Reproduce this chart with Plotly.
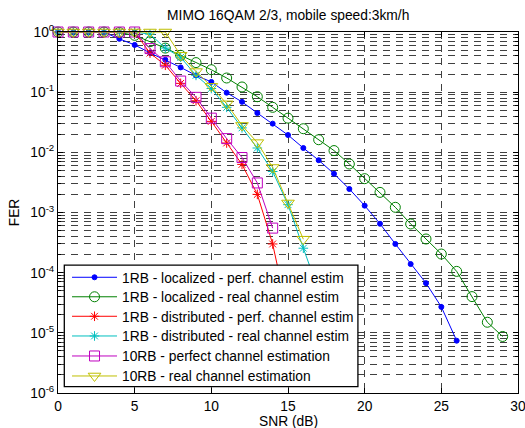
import plotly.graph_objects as go

# SNR grid (dB) and FER values per configuration
snr_loc_perf = list(range(0, 27))
fer_loc_perf = [1, 1, 1, 0.99, 0.77, 0.61, 0.45, 0.345, 0.258, 0.19, 0.148, 0.098,
                0.069, 0.045, 0.030, 0.0194, 0.0118, 0.0074, 0.0044, 0.00246,
                0.0013, 6.5e-4, 3.0e-4, 1.39e-4, 6.7e-5, 2.7e-5, 7.4e-6]

snr_loc_real = list(range(0, 30))
fer_loc_real = [1, 1, 1, 1, 0.98, 0.88, 0.69, 0.54, 0.41, 0.31, 0.236, 0.172,
                0.122, 0.084, 0.056, 0.037, 0.0247, 0.0162, 0.0107, 0.0064,
                0.00365, 0.00216, 0.00122, 6.45e-4, 3.63e-4, 2.04e-4, 1.05e-4,
                4.0e-5, 1.5e-5, 8.7e-6]

snr_dist_perf = list(range(0, 16))
fer_dist_perf = [1, 1, 1, 1, 1, 1, 0.447, 0.28, 0.14, 0.072, 0.0327, 0.0143,
                 0.0063, 0.0020, 3.0e-4, 2.0e-5]

snr_dist_real = list(range(0, 18))
fer_dist_real = [1, 1, 1, 1, 1, 1, 0.92, 0.54, 0.38, 0.19, 0.115, 0.056,
                 0.0255, 0.0118, 0.0048, 0.00135, 2.55e-4, 5.0e-5]

snr_10rb_perf = list(range(0, 15))
fer_10rb_perf = [1, 1, 1, 1, 1, 1, 0.53, 0.32, 0.153, 0.082, 0.037, 0.0169,
                 0.0082, 0.0031, 5.5e-4]

snr_10rb_real = list(range(0, 17))
fer_10rb_real = [1, 1, 1, 1, 1, 1, 1, 1, 0.41, 0.22, 0.125, 0.064, 0.028,
                 0.0145, 0.0056, 0.00144, 3.6e-4]

series_names = [
    "1RB - localized - perf. channel estim",
    "1RB - localized - real channel estim",
    "1RB - distributed - perf. channel estim",
    "1RB - distributed - real channel estim",
    "10RB - perfect channel estimation",
    "10RB - real channel estimation",
]

x_ticks = [0, 5, 10, 15, 20, 25, 30]
y_exponents = [-6, -5, -4, -3, -2, -1, 0]
y_tick_text = ["10<sup>%d</sup>" % e for e in y_exponents]

FONT = "Liberation Sans, Arial, Helvetica, sans-serif"
GRID = "#404040"
GRID_DASH = "7px,6px"

styles = [
    dict(color="#0000FF", symbol="circle", size=5),
    dict(color="#008000", symbol="circle-open", size=10),
    dict(color="#FF0000", symbol="asterisk-open", size=8),
    dict(color="#00BFBF", symbol="asterisk-open", size=8),
    dict(color="#BF00BF", symbol="square-open", size=10),
    dict(color="#BFBF00", symbol="triangle-down-open", size=11),
]

data = [
    (snr_loc_perf, fer_loc_perf),
    (snr_loc_real, fer_loc_real),
    (snr_dist_perf, fer_dist_perf),
    (snr_dist_real, fer_dist_real),
    (snr_10rb_perf, fer_10rb_perf),
    (snr_10rb_real, fer_10rb_real),
]

# plot-area geometry in pixels (used to place the legend rows)
PLOT_BOTTOM_PX, PLOT_HEIGHT_PX = 393.0, 361.0
legend_row_px = [277.3, 296.8, 316.3, 336.0, 356.0, 376.0]

fig = go.Figure()
legend_layout = {}
for i, ((xs, ys), name, st) in enumerate(zip(data, series_names, styles)):
    key = "legend" if i == 0 else "legend%d" % (i + 1)
    fig.add_trace(go.Scatter(
        x=xs, y=ys, name=name, mode="lines+markers",
        line=dict(color=st["color"], width=1),
        marker=dict(symbol=st["symbol"], size=st["size"], color=st["color"],
                    line=dict(color=st["color"], width=1)),
        cliponaxis=False, legend=key,
    ))
    legend_layout[key] = dict(
        x=0.0196, y=(PLOT_BOTTOM_PX - legend_row_px[i]) / PLOT_HEIGHT_PX,
        xanchor="left", yanchor="middle",
        bgcolor="rgba(0,0,0,0)", borderwidth=0, itemwidth=45,
        font=dict(family=FONT, size=13.8, color="black"),
    )

minor_y = [m * 10.0 ** k for k in range(-6, 0) for m in range(2, 10)]

# white framed box behind the legend entries
fig.add_shape(type="rect", xref="paper", yref="paper",
              x0=0.0137, x1=0.652, y0=0.0175, y1=0.354,
              fillcolor="white", line=dict(color="black", width=1.3),
              layer="above")

# axis titles
fig.add_annotation(text="SNR (dB)", xref="paper", yref="paper", x=0.5, y=-0.0795,
                   xanchor="center", yanchor="middle", showarrow=False,
                   font=dict(family=FONT, size=13.8, color="black"))
fig.add_annotation(text="FER", xref="paper", yref="paper", x=-0.094, y=0.5,
                   xanchor="center", yanchor="middle", showarrow=False, textangle=-90,
                   font=dict(family=FONT, size=13.8, color="black"))

fig.update_layout(
    width=525, height=428,
    margin=dict(l=58, r=7, t=32, b=35),
    paper_bgcolor="white", plot_bgcolor="white",
    font=dict(family=FONT, size=13.8, color="black"),
    title=dict(text="MIMO 16QAM 2/3, mobile speed:3km/h", x=0.549, xanchor="center",
               y=1 - 15 / 428, yanchor="middle",
               font=dict(family=FONT, size=13.8, color="black")),
    showlegend=True,
    **legend_layout,
)

fig.update_xaxes(
    range=[0, 30], tickmode="array", tickvals=x_ticks,
    ticks="inside", ticklen=5, tickcolor="black",
    showline=True, linecolor="black", linewidth=1, mirror="ticks",
    showgrid=True, gridcolor=GRID, griddash=GRID_DASH, gridwidth=1,
    zeroline=False, automargin=False, ticklabeloverflow="allow",
    tickfont=dict(family=FONT, size=13.8),
)

fig.update_yaxes(
    type="log", range=[-6, 0], tickmode="array",
    tickvals=[10.0 ** e for e in y_exponents], ticktext=y_tick_text,
    ticks="inside", ticklen=5, tickcolor="black",
    showline=True, linecolor="black", linewidth=1, mirror="ticks",
    showgrid=True, gridcolor=GRID, griddash=GRID_DASH, gridwidth=1,
    zeroline=False, automargin=False, ticklabeloverflow="allow",
    minor=dict(tickmode="array", tickvals=minor_y, ticks="inside", ticklen=3,
               tickcolor="black", showgrid=True, gridcolor=GRID,
               griddash=GRID_DASH, gridwidth=1),
    tickfont=dict(family=FONT, size=13.8),
)

fig.write_html("out.html")
